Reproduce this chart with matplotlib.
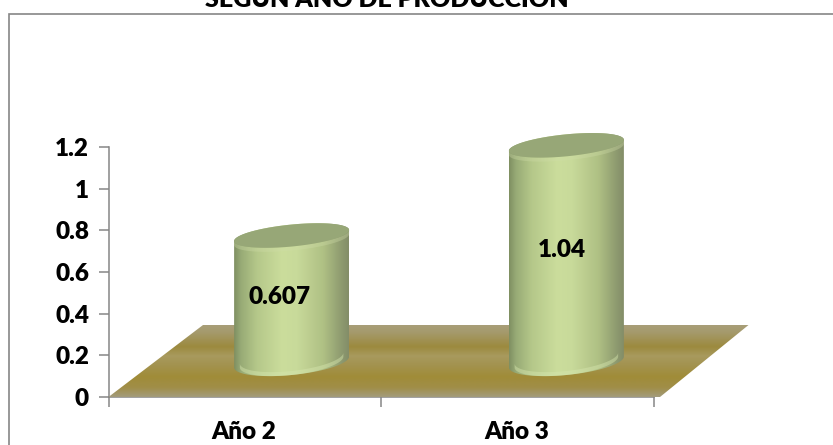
import matplotlib
matplotlib.use("Agg")
import numpy as np
import matplotlib.pyplot as plt
from matplotlib.colors import LinearSegmentedColormap
from matplotlib.patches import Polygon, Rectangle

categories = ["Año 2", "Año 3"]
values = [0.607, 1.04]
value_labels = ["0.607", "1.04"]
y_ticks = [0, 0.2, 0.4, 0.6, 0.8, 1, 1.2]
y_tick_labels = ["0", "0.2", "0.4", "0.6", "0.8", "1", "1.2"]
title = "SEGÚN AÑO DE PRODUCCIÓN"

W, H = 833, 445
plt.rcParams["font.family"] = ["Lato", "DejaVu Sans"]
plt.rcParams["font.weight"] = "heavy"

fig = plt.figure(figsize=(W / 100, H / 100), dpi=100)
fig.patch.set_facecolor("white")

# chart frame, runs off the right and bottom of the picture
top = (H - 13.5) / H
fig.add_artist(Rectangle((8.5 / W, -0.1), 1.1, top + 0.1,
                         transform=fig.transFigure, fc="none", ec="#868686", lw=1.2))

# axes sit exactly on the plotted area, so 1 x unit = 272.75 px, 1 y unit = 208.3 px
ax = fig.add_axes([108.5 / W, (H - 397) / H, 545.5 / W, 250 / H])
ax.patch.set_alpha(0)
xu, yu = 272.75, 250 / 1.2

side_cmap = LinearSegmentedColormap.from_list("side", [
    (0.0, "#7f8f62"), (0.06, "#98ab76"), (0.2, "#b5c88a"), (0.42, "#cbdd9c"),
    (0.55, "#c8da9a"), (0.78, "#afc084"), (0.93, "#8f9c70"), (1.0, "#838d68")])
floor_cmap = LinearSegmentedColormap.from_list("floor", [
    (0.0, "#a89e78"), (0.1, "#a59a6c"), (0.3, "#9c8a3e"), (0.43, "#a89a5e"),
    (0.55, "#a39350"), (0.72, "#a08c38"), (0.87, "#a08e48"), (1.0, "#a39c7c")])


def gradient(cmap, extent, vertical, clip):
    g = np.linspace(0, 1, 256)
    g = g[:, None] if vertical else g[None, :]
    im = ax.imshow(g, cmap=cmap, extent=extent, origin="upper" if vertical else "lower",
                   aspect="auto", zorder=clip.get_zorder(), interpolation="bilinear")
    im.set_clip_box(fig.bbox)
    im.set_clip_path(clip)


# floor parallelogram
dx, dy = 94.5 / xu, 72 / yu
floor = Polygon([(0, 0), (dx, dy), (2 + dx, dy), (2 + 6 / xu, 0)], closed=True,
                fc="none", ec="none", transform=ax.transData, zorder=2)
ax.add_patch(floor)
gradient(floor_cmap, (0, 2 + dx, 0, dy), True, floor)

# cylinders stand in the middle of the floor depth
a, b, s = 57.5 / xu, 11 / yu, 5.5 / yu
foot_b = 13 / yu
shift_px = [-0.5, 1.5]
label_dx = [-12.5, -4]
label_dy = [0.175, 0.185]
t = np.linspace(0, 2 * np.pi, 121)
for i, (val, lab) in enumerate(zip(values, value_labels)):
    cx = i + 0.5 + dx / 2 + shift_px[i] / xu
    cb = 35 / yu
    ct = cb + val
    low = t[60:121]   # lower half, left to right
    upp = t[0:61]     # upper half, right to left
    xs = np.r_[cx + a * np.cos(low), cx + a * np.cos(upp)]
    ys = np.r_[cb + foot_b * np.sin(low) + s * np.cos(low), ct + b * np.sin(upp) + s * np.cos(upp)]
    body = Polygon(np.c_[xs, ys], closed=True, fc="none", ec="none", zorder=3, transform=ax.transData)
    ax.add_patch(body)
    gradient(side_cmap, (cx - a, cx + a, 0, 1.3), False, body)
    # light rim just under the top face
    rx = cx + a * np.cos(t)
    ry = ct + b * np.sin(t) + s * np.cos(t)
    ax.fill(rx[60:121].tolist() + rx[60:121][::-1].tolist(),
            (ry[60:121] - 4 / yu).tolist() + ry[60:121][::-1].tolist(),
            color="#cfdca8", alpha=0.35, lw=0, zorder=4, clip_on=False)
    ax.fill(rx, ry, color="#97a777", lw=0, zorder=5, clip_on=False)
    # pale lip at the foot
    fx = cx + a * 0.9 * np.cos(low)
    fy = cb + foot_b * np.sin(low) + s * np.cos(low)
    ax.fill(fx.tolist() + fx[::-1].tolist(), fy.tolist() + (fy[::-1] + 4 / yu).tolist(),
            color="#d6e6ae", alpha=0.45, lw=0, zorder=4, clip_on=False)
    ax.text(cx + label_dx[i] / xu, val / 2 + label_dy[i], lab, ha="center", va="center",
            fontsize=17.5, color="black", zorder=6)

ax.set_xlim(0, 2)
ax.set_ylim(0, 1.2)
ax.set_yticks(y_ticks)
ax.set_yticklabels(y_tick_labels)
ax.set_xticks([0, 1, 2])
ax.set_xticklabels([])
ax.tick_params(axis="both", color="#868686", width=1.1, length=7, labelsize=17.5, pad=7, labelcolor="black")
for i, c in enumerate(categories):
    ax.annotate(c, (i + 0.5, 0), xytext=(-1, -35), xycoords="data",
                textcoords="offset pixels", ha="center", va="center", fontsize=17.5, annotation_clip=False)
for side in ("top", "right"):
    ax.spines[side].set_visible(False)
for side in ("left", "bottom"):
    ax.spines[side].set_color("#868686")
    ax.spines[side].set_linewidth(1.1)
    ax.spines[side].set_zorder(1)

# title is cut by the top edge in the source image
fig.text(386.5 / W, (H + 1) / H, title, ha="center", va="center", fontsize=18)

fig.savefig("out.png", dpi=100)
